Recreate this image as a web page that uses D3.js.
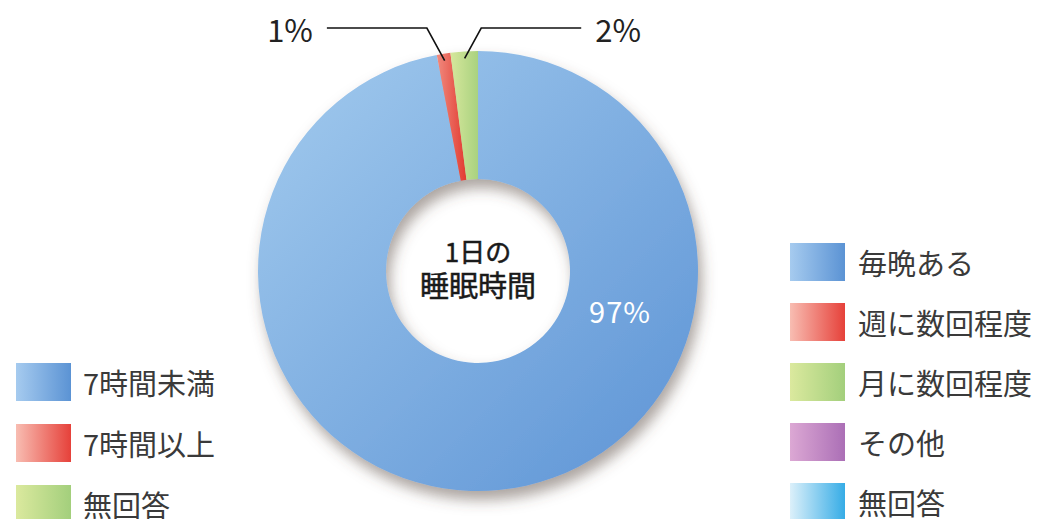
<!DOCTYPE html>
<html>
<head>
<meta charset="utf-8">
<script src="https://cdn.jsdelivr.net/npm/d3@7"></script>
<style>
  html, body { margin: 0; padding: 0; background: #fff; overflow: hidden; }
  text { font-family: "Noto Sans CJK JP", "Noto Sans", sans-serif; }
</style>
</head>
<body>
<div id="chart"></div>
<script>
// 1日の睡眠時間
const sliceLabels = ["7時間未満", "7時間以上", "無回答"];
const sliceValues = [97, 1, 2];
const sliceTexts = ["97%", "1%", "2%"];
const centerLines = ["1日の", "睡眠時間"];
// 右側の凡例 (別グラフ用)
const rightLegend = ["毎晩ある", "週に数回程度", "月に数回程度", "その他", "無回答"];

const width = 1043, height = 519;
const cx = 478, cy = 271, rOuter = 220, rInner = 92;

const svg = d3.select("#chart").append("svg")
  .attr("width", width).attr("height", height);

const defs = svg.append("defs");

// グラデーション
function grad(id, c0, c1, x2, y2) {
  const g = defs.append("linearGradient").attr("id", id)
    .attr("x1", "0%").attr("y1", "0%").attr("x2", x2 || "100%").attr("y2", y2 || "0%");
  g.append("stop").attr("offset", "0%").attr("stop-color", c0);
  g.append("stop").attr("offset", "100%").attr("stop-color", c1);
}
grad("gBluePie", "#a3cbee", "#5c93d5", "100%", "100%");
grad("gRedPie", "#f08a7e", "#e23a30");
grad("gGreenPie", "#d6e79c", "#a9d27f");
grad("gBlue", "#a6cbef", "#5b93d4");
grad("gRed", "#f8bdb2", "#e6413a");
grad("gGreen", "#dbe99e", "#a3cf7c");
grad("gPurple", "#dca8d4", "#ab6fb6");
grad("gCyan", "#dcf0fa", "#36ace6");

const shadow = defs.append("filter").attr("id", "shadow")
  .attr("x", "-20%").attr("y", "-20%").attr("width", "140%").attr("height", "140%");
shadow.append("feDropShadow").attr("dx", 4).attr("dy", 9).attr("stdDeviation", 7)
  .attr("flood-color", "#5a4a40").attr("flood-opacity", 0.5);

const pieFills = ["url(#gBluePie)", "url(#gRedPie)", "url(#gGreenPie)"];

const pie = d3.pie().sort(null).value(d => d);
const arcs = pie(sliceValues);
const arc = d3.arc().innerRadius(rInner).outerRadius(rOuter);

const g = svg.append("g").attr("transform", `translate(${cx},${cy})`);

// ドーナツ本体
const donut = g.append("g").attr("filter", "url(#shadow)");
donut.selectAll("path").data(arcs).enter().append("path")
  .attr("d", arc)
  .attr("fill", (d, i) => pieFills[i]);

// 中央テキスト (やや太め)
g.append("text").attr("text-anchor", "middle").attr("y", -9)
  .style("font-size", "26px").style("fill", "#1a1a1a")
  .style("stroke", "#1a1a1a").style("stroke-width", 0.5)
  .text(centerLines[0]);
g.append("text").attr("text-anchor", "middle").attr("y", 26)
  .style("font-size", "29px").style("fill", "#1a1a1a")
  .style("stroke", "#1a1a1a").style("stroke-width", 0.5)
  .text(centerLines[1]);

// 97% ラベル
g.append("text").attr("x", 142).attr("y", 52).attr("text-anchor", "middle")
  .style("font-size", "29px").style("fill", "#fff").style("letter-spacing", "1px")
  .text(sliceTexts[0]);

// 引き出し線 (小さいスライス)
const yLine = -243;
[1, 2].forEach(i => {
  const a = (arcs[i].startAngle + arcs[i].endAngle) / 2;
  const rr = rOuter - 7;
  const px = Math.sin(a) * rr, py = -Math.cos(a) * rr;
  const dir = i === 1 ? -1 : 1;
  const ex = px + dir * 18 * (yLine - py) / -33;
  const hx = ex + dir * 100;
  g.append("path")
    .attr("d", `M${px},${py}L${ex},${yLine}L${hx},${yLine}`)
    .attr("fill", "none").attr("stroke", "#111").attr("stroke-width", 1.6);
  g.append("text")
    .attr("x", hx + dir * 14).attr("y", yLine + 14)
    .attr("text-anchor", dir < 0 ? "end" : "start")
    .style("font-size", "31px").style("fill", "#222")
    .text(sliceTexts[i]);
});

// 左の凡例
const leftFills = ["url(#gBlue)", "url(#gRed)", "url(#gGreen)"];
const lg = svg.append("g").attr("transform", "translate(16,363)");
const lRows = lg.selectAll("g").data(sliceLabels).enter().append("g")
  .attr("transform", (d, i) => `translate(0,${i * 61})`);
lRows.append("rect").attr("width", 55).attr("height", 38).attr("fill", (d, i) => leftFills[i]);
lRows.append("text").attr("x", 67).attr("y", 32)
  .style("font-size", "29px").style("fill", "#3a3a3a").text(d => d);

// 右の凡例
const rightFills = ["url(#gBlue)", "url(#gRed)", "url(#gGreen)", "url(#gPurple)", "url(#gCyan)"];
const rg = svg.append("g").attr("transform", "translate(790,243)");
const rRows = rg.selectAll("g").data(rightLegend).enter().append("g")
  .attr("transform", (d, i) => `translate(0,${i * 60})`);
rRows.append("rect").attr("width", 55).attr("height", 38).attr("fill", (d, i) => rightFills[i]);
rRows.append("text").attr("x", 68).attr("y", 32)
  .style("font-size", "29px").style("fill", "#3a3a3a").text(d => d);
</script>
</body>
</html>
